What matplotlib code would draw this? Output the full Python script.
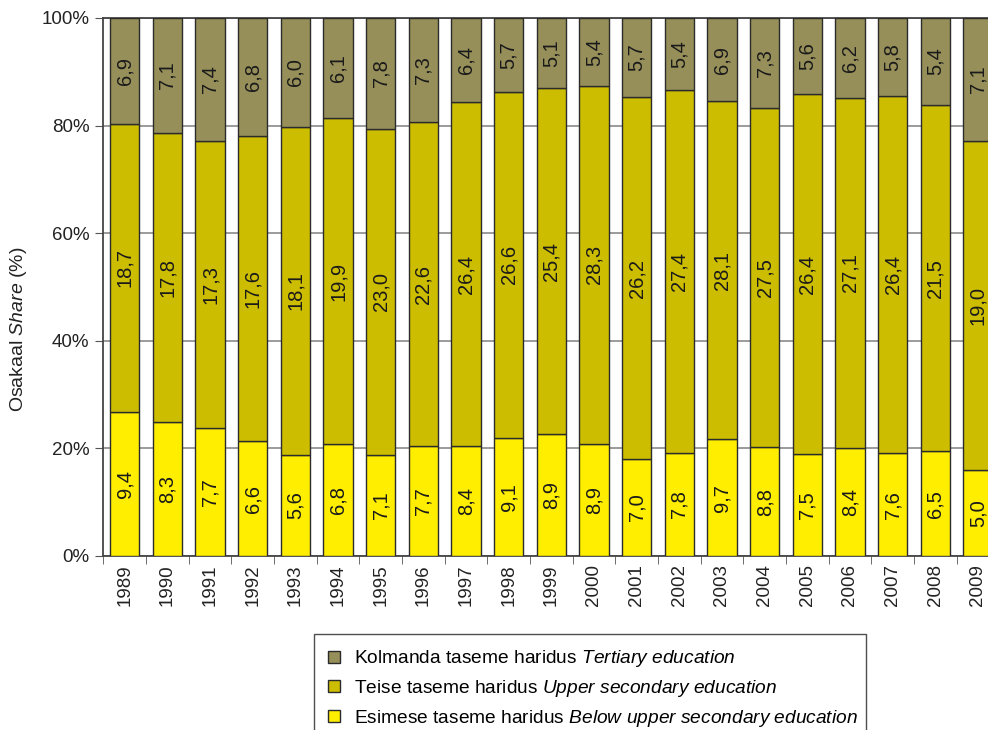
import matplotlib
matplotlib.use("Agg")
import matplotlib.pyplot as plt
import numpy as np

FAM = "Liberation Sans"
plt.rcParams['font.family'] = [FAM, 'DejaVu Sans']
plt.rcParams['mathtext.fontset'] = 'custom'
plt.rcParams['mathtext.rm'] = FAM
plt.rcParams['mathtext.it'] = FAM + ':italic'

years = [str(y) for y in range(1989, 2010)]
below = [9.4, 8.3, 7.7, 6.6, 5.6, 6.8, 7.1, 7.7, 8.4, 9.1, 8.9, 8.9, 7.0, 7.8, 9.7, 8.8, 7.5, 8.4, 7.6, 6.5, 5.0]
upper = [18.7, 17.8, 17.3, 17.6, 18.1, 19.9, 23.0, 22.6, 26.4, 26.6, 25.4, 28.3, 26.2, 27.4, 28.1, 27.5, 26.4, 27.1, 26.4, 21.5, 19.0]
tertiary = [6.9, 7.1, 7.4, 6.8, 6.0, 6.1, 7.8, 7.3, 6.4, 5.7, 5.1, 5.4, 5.7, 5.4, 6.9, 7.3, 5.6, 6.2, 5.8, 5.4, 7.1]

labels = ['Esimese taseme haridus $\\it{Below\\ upper\\ secondary\\ education}$',
          'Teise taseme haridus $\\it{Upper\\ secondary\\ education}$',
          'Kolmanda taseme haridus $\\it{Tertiary\\ education}$']
colors = ['#FFEE00', '#CCBD00', '#968F5A']

b = np.array(below); u = np.array(upper); t = np.array(tertiary)
tot = b + u + t
shares = [b / tot * 100, u / tot * 100, t / tot * 100]
raw = [below, upper, tertiary]

fig = plt.figure(figsize=(9.88, 7.30), dpi=100)
ax = fig.add_axes([103.4 / 988, 1 - 556 / 730, 21 * 42.66 / 988, (556 - 18) / 730])

x = np.arange(len(years))
bottom = np.zeros(len(years))
for s, r, c, lab in zip(shares, raw, colors, labels):
    ax.bar(x, s, bottom=bottom, width=0.69, color=c, edgecolor='#2b2b2b', linewidth=1.0, label=lab, zorder=3)
    for xi, bi, si, ri in zip(x, bottom, s, r):
        ax.text(xi, bi + si / 2, f"{ri:.1f}".replace('.', ','), rotation=90, ha='center', va='center',
                fontsize=14.5, color='#1a1a1a', zorder=4)
    bottom = bottom + s

ax.set_xlim(-0.5, len(years) - 0.5)
ax.set_ylim(0, 100)
ax.set_yticks([0, 20, 40, 60, 80, 100])
ax.set_yticklabels([f"{v}%" for v in [0, 20, 40, 60, 80, 100]], fontsize=13.5, color='#222222')
ax.set_xticks(x)
ax.set_xticklabels(years, rotation=90, fontsize=13.5, color='#222222')
ax.set_xticks(np.arange(-0.5, len(years), 1), minor=True)
ax.tick_params(axis='x', which='major', length=0, pad=6)
ax.tick_params(axis='x', which='minor', length=6, color='#555555', direction='out')
ax.tick_params(axis='y', length=6, color='#555555', direction='out', pad=4)
ax.grid(axis='y', color='#8a8a8a', linewidth=1.2, zorder=0)
ax.set_axisbelow(True)
ax.spines['right'].set_visible(False)
for sp in ['left', 'bottom', 'top']:
    ax.spines[sp].set_color('#444444')
    ax.spines[sp].set_linewidth(1.3)

ax.set_ylabel('Osakaal $\\it{Share}$ (%)', fontsize=14, color='#222222')
ax.yaxis.set_label_coords((29 - 103.4) / (21 * 42.66), (556 - 329) / 538)

h, l = ax.get_legend_handles_labels()
leg = fig.legend(h[::-1], l[::-1], loc='upper left',
                 bbox_to_anchor=(314 / 988, 1 - 634 / 730 - 0.01, (866 - 314) / 988, 0.01),
                 mode='expand', fontsize=13.8, frameon=True, fancybox=False, edgecolor='#222222',
                 handlelength=0.6, handleheight=0.6, handletextpad=0.75, labelspacing=0.45,
                 borderpad=0.75, borderaxespad=0)
leg.get_frame().set_linewidth(1.0)

fig.savefig('out.png', dpi=100)
